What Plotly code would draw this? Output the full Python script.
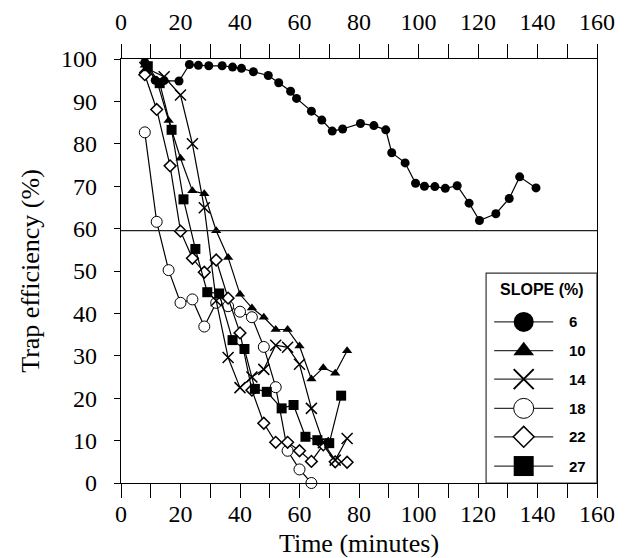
import plotly.graph_objects as go

# ---------------- data ----------------
t6 = [8, 11.5, 14.5, 19.5, 23, 26, 29.5, 34, 37.5, 40.5, 44.5, 49.5, 53, 57, 59, 64, 67.5, 71, 74.5,
      80.5, 85, 89, 91, 95.5, 99, 102, 105.5, 109, 113, 117, 120.5, 126, 130.5, 134, 139.5]
v6 = [99.2, 95.0, 94.9, 94.8, 98.7, 98.5, 98.4, 98.4, 98.1, 97.8, 97.0, 96.1, 94.4, 92.4, 90.7, 87.7,
      85.6, 83.0, 83.5, 84.8, 84.3, 83.3, 77.9, 75.5, 70.7, 70.0, 69.9, 69.5, 70.1, 66.0, 61.9, 63.5,
      67.1, 72.2, 69.6]

t10 = [8, 12, 16, 20, 24, 28, 32, 36, 40, 44, 48, 52, 56, 60, 64, 68, 72, 76]
v10 = [98.5, 95.0, 85.5, 76.6, 68.9, 68.2, 59.5, 53.2, 44.5, 41.3, 39.1, 36.2, 36.2, 32.3, 24.5, 27.2, 25.9, 31.2]

t14 = [8, 14.5, 20, 24, 28, 32, 36, 40, 44, 48, 52, 56, 60, 64, 68, 72, 76]
v14 = [98.0, 95.8, 91.5, 80.0, 64.9, 43.0, 29.6, 22.5, 25.0, 26.8, 32.5, 32.0, 28.0, 17.6, 9.5, 5.4, 10.5]

t18 = [8, 12, 16, 20, 24, 28, 32, 36, 40, 44, 48, 52, 56, 60, 64]
v18 = [82.7, 61.6, 50.2, 42.5, 43.3, 36.9, 42.5, 41.7, 40.4, 39.1, 32.1, 22.6, 7.6, 3.2, 0.0]

t22 = [8, 12, 16.5, 20, 24, 28, 32, 36, 40, 44, 48, 52, 56, 60, 64, 68, 72, 76]
v22 = [96.3, 88.1, 74.8, 59.4, 53.0, 49.7, 52.6, 43.6, 35.4, 21.9, 14.1, 9.6, 9.6, 7.6, 5.1, 9.0, 5.0, 4.9]

t27 = [9, 13, 17, 21, 25, 29, 33, 37.5, 41.5, 45, 49, 54, 58, 62, 66, 70, 74]
v27 = [98.3, 94.3, 83.3, 66.9, 55.2, 45.0, 44.7, 33.7, 31.6, 22.2, 21.5, 17.6, 18.4, 10.9, 10.1, 9.4, 20.6]

slopes = ["6", "10", "14", "18", "22", "27"]
threshold = 59.5
x_ticks = [0, 20, 40, 60, 80, 100, 120, 140, 160]
y_ticks = [0, 10, 20, 30, 40, 50, 60, 70, 80, 90, 100]

# ---------------- styles ----------------
SERIF = "Liberation Serif"
SANS = "Liberation Sans"
styles = {
    "6":  dict(symbol="circle", size=9, color="black", line=dict(color="black", width=0)),
    "10": dict(symbol="triangle-up", size=9, color="black", line=dict(color="black", width=0)),
    "14": dict(symbol="x-thin-open", size=11, color="black", line=dict(color="black", width=1.5)),
    "18": dict(symbol="circle", size=11, color="white", line=dict(color="black", width=1)),
    "22": dict(symbol="diamond", size=9, color="white", line=dict(color="black", width=1.5)),
    "27": dict(symbol="square", size=10, color="black", line=dict(color="black", width=0)),
}
leg_sizes = {"6": 20, "10": 18, "14": 20, "18": 20, "22": 16, "27": 20}
series = {"6": (t6, v6), "10": (t10, v10), "14": (t14, v14),
          "18": (t18, v18), "22": (t22, v22), "27": (t27, v27)}

fig = go.Figure()

# threshold line
fig.add_shape(type="line", xref="paper", x0=0, x1=1, yref="y", y0=threshold, y1=threshold,
              line=dict(color="#222", width=1.2))

for s in ["18", "22", "14", "10", "27", "6"]:
    tx, vy = series[s]
    fig.add_trace(go.Scatter(x=tx, y=vy, mode="lines+markers", name=s, showlegend=False,
                             line=dict(color="black", width=1.2),
                             marker=styles[s], cliponaxis=False))

# ---------------- custom legend ----------------
box_x0, box_x1, box_y0, box_y1 = 0.767, 1.0, 0.0, 0.495
fig.add_shape(type="rect", xref="paper", yref="paper", x0=box_x0, x1=box_x1, y0=box_y0, y1=box_y1,
              line=dict(color="#333", width=1.2), fillcolor="white", layer="below")
fig.add_annotation(xref="paper", yref="paper", x=0.884, y=0.457, text="<b>SLOPE (%)</b>",
                   showarrow=False, xanchor="center", yanchor="middle",
                   font=dict(family=SANS, size=16, color="black"))
leg_y = [0.380, 0.312, 0.245, 0.176, 0.109, 0.040]
lx0, lx1, lmx, ltx = 0.784, 0.908, 0.846, 0.937
for s, yy in zip(slopes, leg_y):
    fig.add_shape(type="line", xref="paper", yref="paper", x0=lx0, x1=lx1, y0=yy, y1=yy,
                  line=dict(color="#333", width=1.3), layer="below")
    fig.add_annotation(xref="paper", yref="paper", x=ltx, y=yy, text="<b>%s</b>" % s,
                       xanchor="left", yanchor="middle",
                       showarrow=False, font=dict(family=SANS, size=15, color="black"))
    m = dict(styles[s])
    m["size"] = leg_sizes[s]
    if s == "14":
        m["line"] = dict(color="black", width=2)
    fig.add_trace(go.Scatter(x=[lmx], y=[yy], xaxis="x3", yaxis="y3", mode="markers",
                             marker=m, showlegend=False, hoverinfo="skip", cliponaxis=False))

axis_common = dict(showgrid=False, zeroline=False, showline=True, linecolor="black", linewidth=1.2,
                   ticks="outside", tickcolor="black", tickwidth=1.2, automargin=False,
                   tickfont=dict(family=SERIF, size=24, color="black"))

fig.update_layout(
    width=628, height=558,
    margin=dict(l=121, r=31, t=59, b=75),
    paper_bgcolor="white", plot_bgcolor="white",
    showlegend=False,
    xaxis=dict(range=[0, 160], tickvals=x_ticks, ticklen=7,
               minor=dict(dtick=10, tick0=0, ticklen=14, ticks="outside", tickcolor="black", tickwidth=1.2),
               title=dict(text="Time (minutes)", font=dict(family=SERIF, size=26, color="black"), standoff=15),
               ticklabelstandoff=2, **axis_common),
    xaxis2=dict(range=[0, 160], overlaying="x", side="top", tickvals=x_ticks, ticklen=7,
                minor=dict(dtick=10, tick0=0, ticklen=14, ticks="outside", tickcolor="black", tickwidth=1.2),
                ticklabelstandoff=11, **axis_common),
    yaxis=dict(range=[0, 100], tickvals=y_ticks, ticklen=6, mirror=True,
               title=dict(text="Trap efficiency (%)", font=dict(family=SERIF, size=26, color="black"), standoff=13),
               ticklabelstandoff=12, **axis_common),
    xaxis3=dict(domain=[0, 1], range=[0, 1], visible=False, anchor="y3", overlaying="x", automargin=False),
    yaxis3=dict(domain=[0, 1], range=[0, 1], visible=False, anchor="x3", overlaying="y", automargin=False),
)
# invisible trace to activate the top axis
fig.add_trace(go.Scatter(x=[0, 160], y=[0, 0], xaxis="x2", mode="lines", line=dict(width=0),
                         showlegend=False, hoverinfo="skip", opacity=0))

fig.write_html("out.html", config={"displayModeBar": False},
               post_script="document.body.style.margin='0px';")
